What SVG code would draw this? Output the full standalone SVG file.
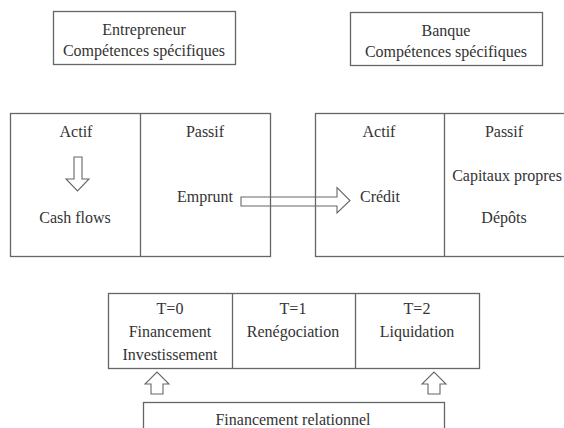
<svg xmlns="http://www.w3.org/2000/svg" width="564" height="428" viewBox="0 0 564 428">
<style>
text{font-family:"Liberation Serif","Times New Roman",serif;font-size:16px;fill:#333;text-anchor:middle}
.b{fill:none;stroke:#666;stroke-width:1.3}
.a{fill:none;stroke:#666;stroke-width:1.1;stroke-linejoin:miter}
</style>
<rect width="564" height="428" fill="#fff"/>
<g id="entrepreneur">
<rect class="b" x="53.5" y="11.5" width="182" height="53"/>
<text x="144" y="35">Entrepreneur</text>
<text x="144" y="56">Compétences spécifiques</text>
</g>
<g id="banque">
<rect class="b" x="350.5" y="12.5" width="192" height="53"/>
<text x="446" y="36">Banque</text>
<text x="446" y="57">Compétences spécifiques</text>
</g>
<g id="bilan-entrepreneur">
<rect class="b" x="10.5" y="113.5" width="260" height="143"/>
<line class="b" x1="140.5" y1="113.5" x2="140.5" y2="256.5"/>
<text x="76" y="137">Actif</text>
<text x="205" y="137">Passif</text>
<path class="a" d="M74 157H82V179H89L77.5 191L66 179H74Z"/>
<text x="75" y="223">Cash flows</text>
<text x="205" y="202">Emprunt</text>
</g>
<g id="bilan-banque">
<rect class="b" x="315.5" y="113.5" width="260" height="143"/>
<line class="b" x1="444.5" y1="113.5" x2="444.5" y2="256.5"/>
<text x="379" y="137">Actif</text>
<text x="504" y="137">Passif</text>
<text x="380" y="202">Crédit</text>
<text x="507" y="181">Capitaux propres</text>
<text x="504" y="223">Dépôts</text>
</g>
<g id="periodes">
<rect class="b" x="108.5" y="293.5" width="371" height="75"/>
<line class="b" x1="232.5" y1="293.5" x2="232.5" y2="368.5"/>
<line class="b" x1="355.5" y1="293.5" x2="355.5" y2="368.5"/>
<text x="170" y="314">T=0</text>
<text x="170" y="337">Financement</text>
<text x="170" y="360">Investissement</text>
<text x="293" y="314">T=1</text>
<text x="293" y="337">Renégociation</text>
<text x="417" y="314">T=2</text>
<text x="417" y="337">Liquidation</text>
</g>
<g id="financement-relationnel">
<rect class="b" x="143.5" y="402.5" width="301" height="40"/>
<text x="293" y="425">Financement relationnel</text>
</g>
<g id="connectors">
<path class="a" d="M241 197H337V187.5L350 200.5L337 213V206H241Z"/>
<path class="a" d="M151 394V384H145L157 372L169 384H163V394Z"/>
<path class="a" d="M428 394V384H422L434 372L446 384H440V394Z"/>
</g>
</svg>
